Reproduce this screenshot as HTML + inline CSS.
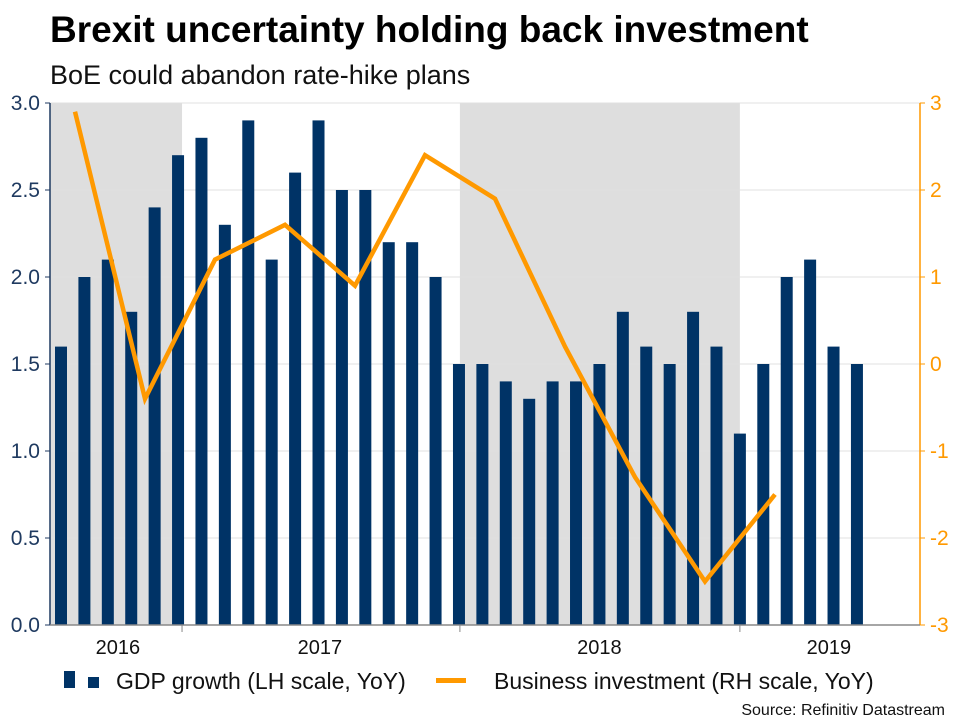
<!DOCTYPE html>
<html><head><meta charset="utf-8"><style>
body{margin:0;background:#fff;font-family:"Liberation Sans",Arial,sans-serif}
svg{display:block}
</style></head><body>
<svg width="960" height="720" viewBox="0 0 960 720" id="chart">
<text x="50" y="42" font-size="37" font-weight="bold" fill="#000">Brexit uncertainty holding back investment</text>
<text x="50" y="84" font-size="27" fill="#111">BoE could abandon rate-hike plans</text>
<g id="shade"></g><g id="grid"></g><g id="bars"></g><g id="line"></g><g id="axes"></g>
<g>
<rect x="64" y="671" width="11" height="17" fill="#003366"/>
<rect x="88" y="677" width="11" height="11" fill="#003366"/>
<text x="116" y="689" font-size="23" fill="#111">GDP growth (LH scale, YoY)</text>
<rect x="436" y="678" width="30" height="5" fill="#ff9900"/>
<text x="494" y="689" font-size="23" fill="#111">Business investment (RH scale, YoY)</text>
</g>
<text x="945" y="715" font-size="16" text-anchor="end" fill="#111">Source: Refinitiv Datastream</text>
</svg>
<script>
const gdpValues=[1.6,2.0,2.1,1.8,2.4,2.7,2.8,2.3,2.9,2.1,2.6,2.9,2.5,2.5,2.2,2.2,2.0,1.5,1.5,1.4,1.3,1.4,1.4,1.5,1.8,1.6,1.5,1.8,1.6,1.1,1.5,2.0,2.1,1.6,1.5];
const investValues=[2.9,-0.4,1.2,1.6,0.9,2.4,1.9,0.2,-1.3,-2.5,-1.5];
const leftTicks=[0,0.5,1,1.5,2,2.5,3];
const rightTicks=[-3,-2,-1,0,1,2,3];
const yearLabels=["2016","2017","2018","2019"];
const yearCenters=[2.43,11.06,23.0,32.8];
const shadeRanges=[[-0.47,5.17],[17.04,29.0]];
const yearTicks=[5.17,17.04,29.0];
const NS="http://www.w3.org/2000/svg";
const X0=50,X1=920,Y0=625,Y1=103;
const bx=i=>61+i*23.41;
const yl=v=>Y0-(v/3)*(Y0-Y1);
const yr=v=>Y0-((v+3)/6)*(Y0-Y1);
const qx=q=>bx(0)+14+q*70;
function mk(p,t,a){const e=document.createElementNS(NS,t);for(const k in a)e.setAttribute(k,a[k]);document.getElementById(p).appendChild(e);return e;}
shadeRanges.forEach((r,i)=>{const e=mk("shade","rect",{x:Math.max(X0,bx(r[0])),y:Y1,width:bx(r[1])-Math.max(X0,bx(r[0])),height:Y0-Y1,fill:"#dedede"});

});
leftTicks.forEach(v=>{const g=mk("grid","line",{x1:X0,x2:X1,y1:yl(v),y2:yl(v),stroke:"#e0e0e0","stroke-width":1});


const t=mk("axes","text",{x:40,y:yl(v)+7,"font-size":21,"text-anchor":"end",fill:"#1f3a60"});t.textContent=v.toFixed(1);


mk("axes","line",{x1:X0-5,x2:X0,y1:yl(v),y2:yl(v),stroke:"#1f3a60"});});
rightTicks.forEach(v=>{const t=mk("axes","text",{x:930,y:yr(v)+7,"font-size":21,fill:"#ff9900"});t.textContent=v;


mk("axes","line",{x1:X1,x2:X1+5,y1:yr(v),y2:yr(v),stroke:"#ff9900"});});
gdpValues.forEach((v,i)=>{const b=mk("bars","rect",{x:bx(i)-6,y:yl(v),width:12,height:Y0-yl(v),fill:"#003366"});

});
const pl=mk("line","polyline",{points:investValues.map((v,q)=>qx(q)+","+yr(v)).join(" "),fill:"none",stroke:"#ff9900","stroke-width":4.5,"stroke-linejoin":"miter"});


let a=mk("axes","line",{x1:X0,x2:X0,y1:Y1,y2:Y0,stroke:"#1f3a60","stroke-width":1.5});


a=mk("axes","line",{x1:X1,x2:X1,y1:Y1,y2:Y0,stroke:"#ff9900","stroke-width":1.5});


a=mk("axes","line",{x1:X0,x2:X1,y1:Y0,y2:Y0,stroke:"#888","stroke-width":1.5});


yearTicks.forEach(t=>{mk("axes","line",{x1:bx(t),x2:bx(t),y1:Y0,y2:Y0+7,stroke:"#888"});});
yearLabels.forEach((l,i)=>{const t=mk("axes","text",{x:bx(yearCenters[i]),y:654,"font-size":20,"text-anchor":"middle",fill:"#111"});t.textContent=l;

});
</script>
</body></html>
